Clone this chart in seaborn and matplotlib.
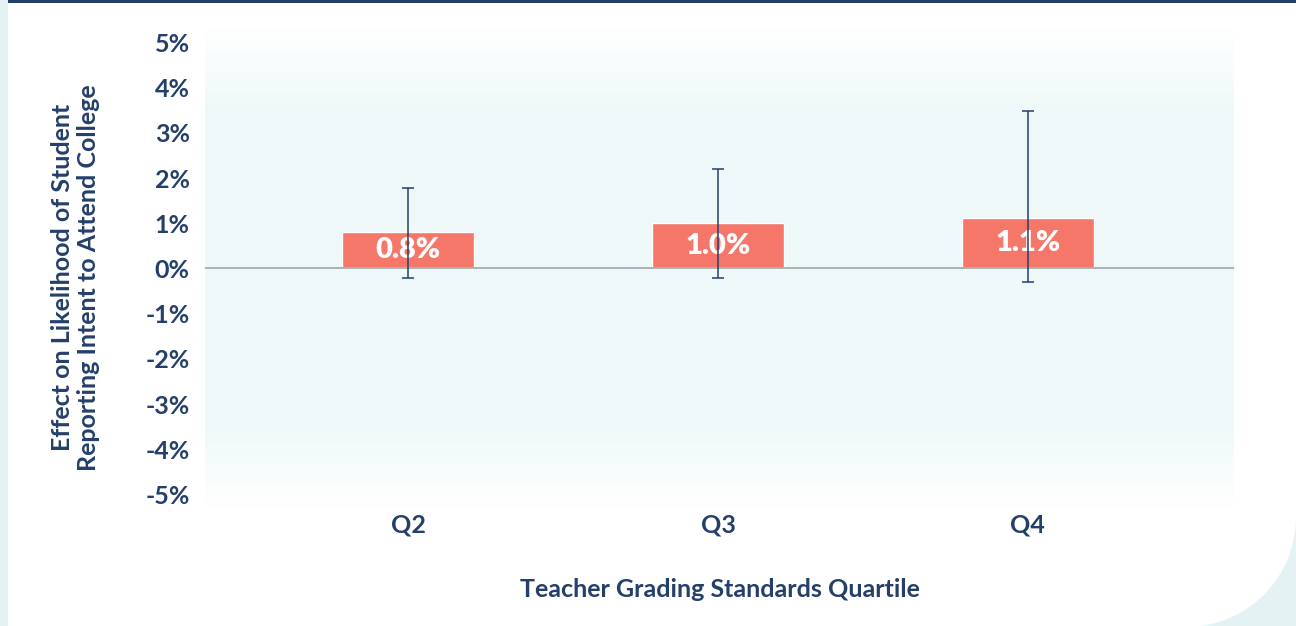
import numpy as np
import matplotlib
matplotlib.use("Agg")
import matplotlib.pyplot as plt
from matplotlib.path import Path
from matplotlib.patches import PathPatch, Rectangle
from matplotlib.colors import LinearSegmentedColormap
import pandas as pd
import seaborn as sns

# data
quartiles = ["Q2", "Q3", "Q4"]
effects = [0.80, 1.01, 1.12]
ci_low = [-0.21, -0.21, -0.30]
ci_high = [1.79, 2.19, 3.48]
bar_labels = ["0.8%", "1.0%", "1.1%"]
yticks = [-5, -4, -3, -2, -1, 0, 1, 2, 3, 4, 5]

navy = "#24406a"
salmon = "#f4776a"
teal_bg = "#e4f2f3"

sns.set_theme(style="white")
plt.rcParams["font.family"] = ["Lato", "DejaVu Sans"]

W, H = 1296, 626
fig = plt.figure(figsize=(W / 100, H / 100), dpi=100)
fig.patch.set_facecolor(teal_bg)

# white card with rounded bottom-right corner (display pixel coords)
r = 110
cx, cy = W - r, 109
theta = np.linspace(0, -np.pi / 2, 40)
arc = np.column_stack([cx + r * np.cos(theta), cy + r * np.sin(theta)])
verts = [(8, H - 3), (W, H - 3), (W, cy)] + [tuple(p) for p in arc] + [(8, -5), (8, H - 3)]
card = PathPatch(Path(verts), facecolor="white", edgecolor="none", transform=None, zorder=-10)
fig.patches.append(card)
fig.patches.append(Rectangle((8, H - 3), W, 4, facecolor=navy, edgecolor="none",
                             transform=None, zorder=-10))

ax = fig.add_axes([205 / W, (H - 513) / H, (1234 - 205) / W, (513 - 23) / H])
ax.set_facecolor("none")

df = pd.DataFrame({"quartile": quartiles, "effect": effects})
sns.barplot(data=df, x="quartile", y="effect", color=salmon, saturation=1,
            width=0.425, ax=ax, zorder=3)

xs = np.arange(len(quartiles))
yerr = [np.array(effects) - np.array(ci_low), np.array(ci_high) - np.array(effects)]
ax.errorbar(xs, effects, yerr=yerr, fmt="none", ecolor=navy, elinewidth=1.1,
            capsize=4.3, capthick=1.1, zorder=5)

for x, v, lab in zip(xs, effects, bar_labels):
    ax.text(x, v / 2, lab, ha="center", va="center", color="white",
            fontsize=21, fontweight="heavy", zorder=4)

ax.axhline(0, color="#a9b3b4", lw=1.4, zorder=4)

ax.set_xlim(-0.655, 2.665)
ax.set_ylim(-5.41, 5.43)

# soft teal gradient behind the plot area
grad = np.concatenate([np.linspace(0, 1, 20), np.ones(60), np.linspace(1, 0, 20)])[:, None]
cmap = LinearSegmentedColormap.from_list("bg", ["#ffffff", "#eef8f8"])
ax.imshow(grad, aspect="auto", cmap=cmap, extent=[-0.655, 2.665, -5.41, 5.43],
          origin="upper", zorder=0)

ax.set_yticks(yticks)
ax.set_yticklabels([f"{t}%" for t in yticks])
ax.tick_params(axis="y", length=0, pad=11, labelsize=18, labelcolor=navy)
ax.tick_params(axis="x", length=0, pad=0, labelsize=18, labelcolor=navy)
for lab in ax.get_xticklabels() + ax.get_yticklabels():
    lab.set_fontweight("bold")

for s in ax.spines.values():
    s.set_visible(False)

ax.set_xlabel("Teacher Grading Standards Quartile", fontsize=18, fontweight="bold",
              color=navy, labelpad=30)
ax.set_ylabel("Effect on Likelihood of Student\nReporting Intent to Attend College",
              fontsize=18, fontweight="bold", color=navy, linespacing=1.15)
ax.yaxis.set_label_coords(-0.102, 0.48)

fig.savefig("out.png", dpi=100, facecolor=fig.get_facecolor())
